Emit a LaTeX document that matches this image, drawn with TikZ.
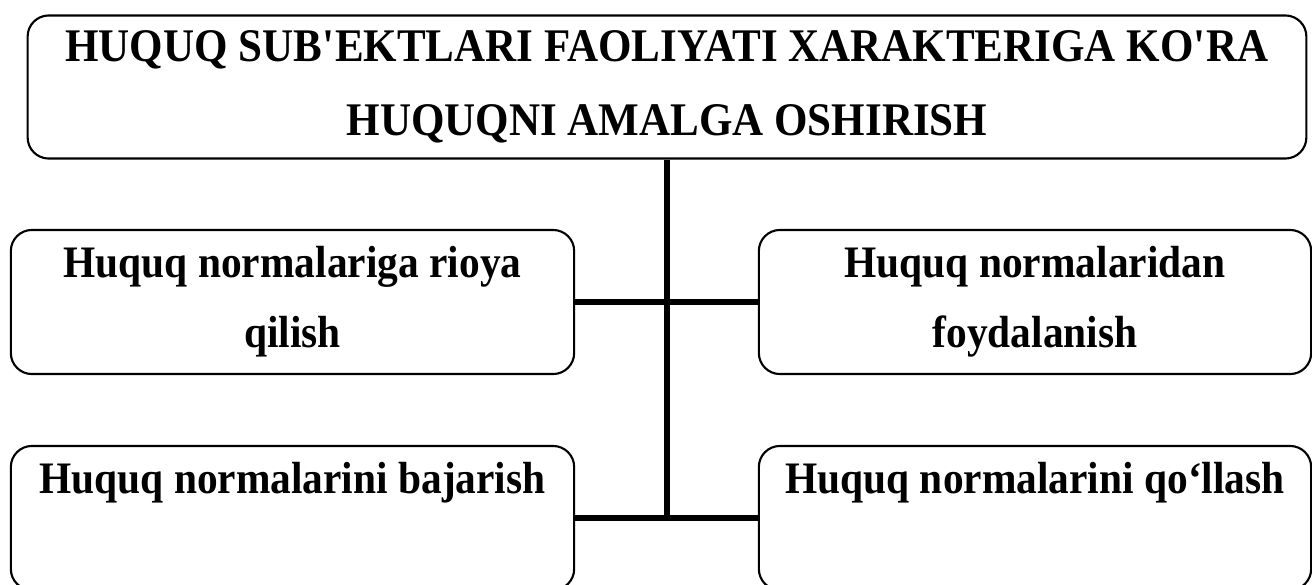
\documentclass[tikz,border=0pt]{standalone}
\usepackage{fontspec}
\setmainfont{Liberation Serif}[FakeStretch=0.92]
\tikzstyle{BoxTitle}=[draw,rounded corners=6pt,line width=0.6pt,inner sep=0pt,
minimum width=12.78cm,minimum height=1.43cm,align=center,
font=\bfseries\fontsize{13.3}{21}\selectfont]
\tikzstyle{BoxItem}=[draw,rounded corners=6pt,line width=0.6pt,inner sep=0pt,
minimum height=1.44cm,align=center,font=\bfseries\fontsize{12.8}{19.9}\selectfont]
\tikzstyle{LinkLine}=[line width=1.7pt]

\begin{document}
\begin{tikzpicture}[x=0.01cm,y=-0.01cm]
    \useasboundingbox(0,0)rectangle(1312,585);
    \clip(0,0)rectangle(1312,585);
    \node[BoxTitle](t)at(667,87){HUQUQ SUB\textquotesingle EKTLARI FAOLIYATI XARAKTERIGA KO\textquotesingle RA\\HUQUQNI AMALGA OSHIRISH};
    \node[BoxItem,minimum width=5.63cm](l1)at(292.5,302){Huquq normalariga rioya\\qilish};
    \node[BoxItem,minimum width=5.52cm](r1)at(1035,302){Huquq normalaridan\\foydalanish};
    \node[BoxItem,minimum width=5.63cm](l2)at(292.5,518){Huquq normalarini bajarish\\\vphantom{q}};
    \node[BoxItem,minimum width=5.52cm](r2)at(1035,518){Huquq normalarini qo‘llash\\\vphantom{q}};
    \coordinate(j)at(t.south|-l2.east);
    \draw[LinkLine](t.south)--(j);
    \draw[LinkLine](l1.east)--(r1.west);
    \draw[LinkLine](l2.east)--(r2.west);
\end{tikzpicture}
\end{document}
